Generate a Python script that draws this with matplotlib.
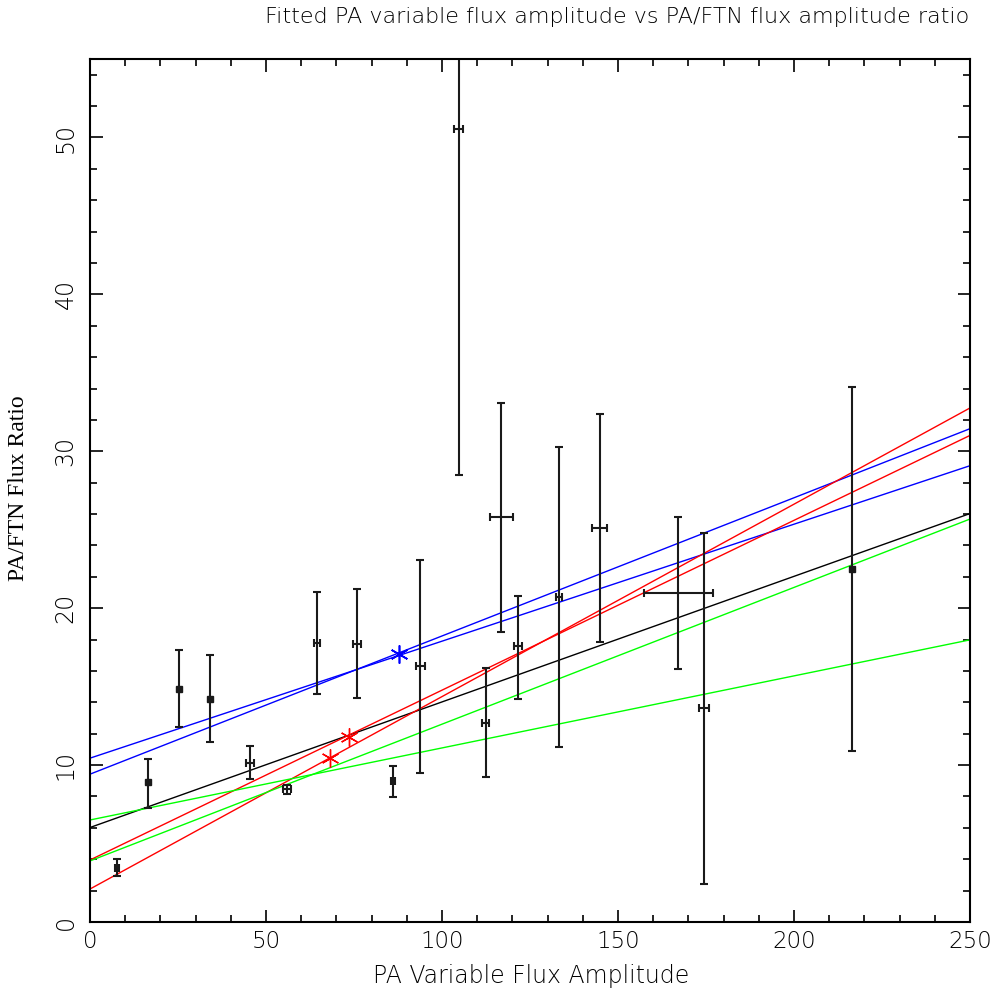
import matplotlib
matplotlib.use("Agg")
import matplotlib.pyplot as plt
from matplotlib.ticker import MultipleLocator
import numpy as np

# Data points
x_amp = [7.7, 16.6, 25.4, 34.2, 45.5, 56.0, 64.5, 75.9, 86.1, 93.8, 104.7, 112.4,
         116.8, 121.6, 133.2, 144.8, 167.1, 174.5, 216.6]
ratio = [3.46, 8.91, 14.86, 14.24, 10.16, 8.46, 17.79, 17.71, 8.97, 16.33, 50.57, 12.71,
         25.83, 17.56, 20.68, 25.08, 20.94, 13.65, 22.47]
ratio_lo = [2.9, 7.27, 12.42, 11.48, 9.09, 8.16, 14.5, 14.26, 7.95, 9.5, 28.5, 9.23,
            18.49, 14.24, 11.12, 17.87, 16.13, 2.44, 10.88]
ratio_hi = [4.0, 10.4, 17.33, 17.0, 11.22, 8.74, 21.03, 21.2, 9.93, 23.09, 72.6, 16.2,
            33.1, 20.8, 30.3, 32.4, 25.83, 24.81, 34.1]
x_err = [0.66, 0, 0, 0, 1.05, 1.2, 0.95, 1.1, 0.6, 1.3, 1.3, 1.05,
         3.3, 1.1, 0.95, 2.1, 9.85, 1.4, 0]

# Fit lines: (value at x=0, value at x=250)
fit_x = [0, 250]
black_fit = [6.02, 26.03]
blue_fits = [[10.44, 29.08], [9.42, 31.44]]
red_fits = [[2.1, 32.76], [3.95, 31.01]]
green_fits = [[3.89, 25.68], [6.5, 17.98]]

# Star markers
blue_star_x, blue_star_y = [87.7], [17.05]
red_star_x, red_star_y = [73.6, 68.2], [11.8, 10.44]

fig = plt.figure(figsize=(10, 9.92), dpi=100)
ax = fig.add_axes([0.09, 0.0706, 0.88, 0.8699])

ax.plot(fit_x, black_fit, color="black", lw=1.0)
for f in blue_fits:
    ax.plot(fit_x, f, color="#0000ff", lw=1.0)
for f in red_fits:
    ax.plot(fit_x, f, color="#ff0000", lw=1.0)
for f in green_fits:
    ax.plot(fit_x, f, color="#00ff00", lw=1.0)

y = np.array(ratio)
yerr = [y - np.array(ratio_lo), np.array(ratio_hi) - y]
xe = np.array(x_err)
xa = np.array(x_amp)
has_x = xe > 0
ax.errorbar(xa[has_x], y[has_x], yerr=[yerr[0][has_x], yerr[1][has_x]],
            xerr=xe[has_x], fmt='none', ecolor="#1a1a1a", elinewidth=1.5,
            capsize=3, capthick=1.5)
ax.errorbar(xa[~has_x], y[~has_x], yerr=[yerr[0][~has_x], yerr[1][~has_x]],
            fmt='s', color="#1a1a1a", ms=4, ecolor="#1a1a1a", elinewidth=1.5,
            capsize=3, capthick=1.5)

ax.plot(blue_star_x, blue_star_y, linestyle='none', marker=(6, 2, 0), ms=13,
        mec="#0000ff", mew=1.2)
ax.plot(red_star_x, red_star_y, linestyle='none', marker=(6, 2, 0), ms=13,
        mec="#ff0000", mew=1.0)

ax.set_xlim(0, 250)
ax.set_ylim(0, 55)
ax.xaxis.set_major_locator(MultipleLocator(50))
ax.xaxis.set_minor_locator(MultipleLocator(10))
ax.yaxis.set_major_locator(MultipleLocator(10))
ax.yaxis.set_minor_locator(MultipleLocator(2))
ax.tick_params(which='both', direction='in', top=True, right=True, color='black', width=1.2)
ax.tick_params(which='major', length=9)
ax.tick_params(axis='x', which='major', pad=6, labelsize=16.5)
ax.tick_params(axis='y', which='major', pad=9, labelsize=17)
ax.tick_params(which='minor', length=5)
for lab in ax.get_yticklabels():
    lab.set_rotation(90)
    lab.set_va('center')
for s in ax.spines.values():
    s.set_linewidth(1.5)

for lab in ax.get_xticklabels() + ax.get_yticklabels():
    lab.set_fontweight('light')

fig.text(0.531, 1 - 976 / 992, "PA Variable Flux Amplitude", ha='center', va='center',
         fontsize=17, fontweight='light')
fig.text(0.019, 1 - 488 / 992, "PA/FTN Flux Ratio", ha='center', va='center',
         rotation=90, fontsize=17, family=["Liberation Serif", "DejaVu Serif"])
fig.text(0.6175, 0.983, "Fitted PA variable flux amplitude vs PA/FTN flux amplitude ratio",
         ha='center', va='center', fontsize=16, fontweight='light')

fig.savefig("out.png", dpi=100)
